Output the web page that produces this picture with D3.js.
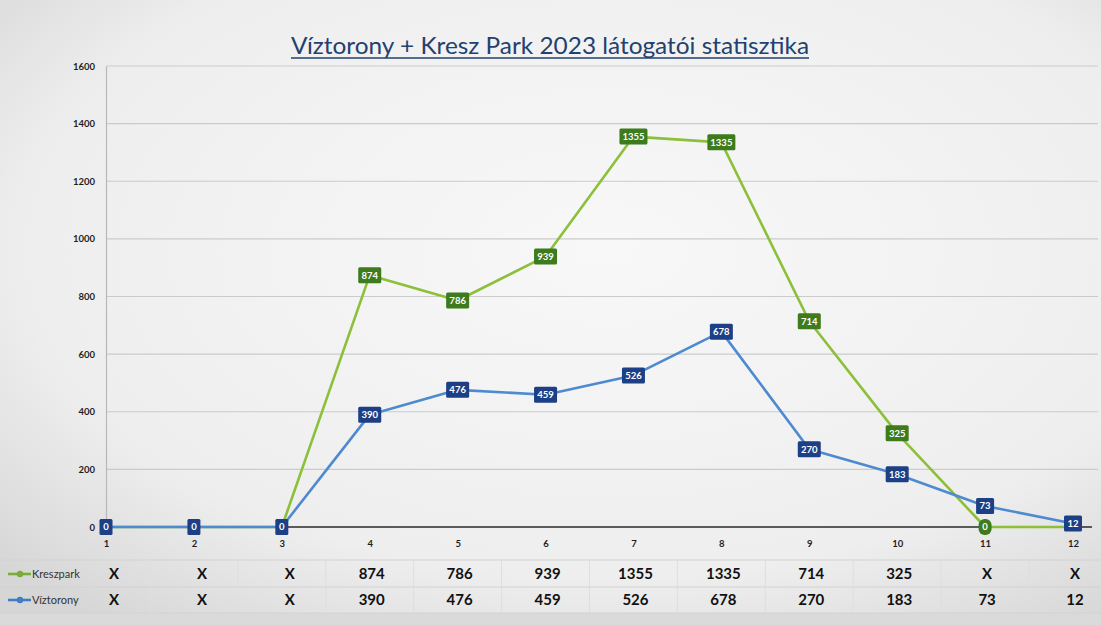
<!DOCTYPE html>
<html lang="hu">
<head>
<meta charset="UTF-8">
<title>Víztorony + Kresz Park 2023</title>
<script src="https://d3js.org/d3.v7.min.js"></script>
<style>
  * { margin: 0; padding: 0; box-sizing: border-box; }
  body { background: #e4e4e4; overflow: hidden; }
  svg { display: block; }
</style>
</head>
<body>
<div id="chart"></div>
<script>
  // honapok (1-12), null = nincs adat ("X" a tablazatban)
  const months = ["1", "2", "3", "4", "5", "6", "7", "8", "9", "10", "11", "12"];
  const kreszpark = [null, null, null, 874, 786, 939, 1355, 1335, 714, 325, null, null];
  const viztorony = [null, null, null, 390, 476, 459, 526, 678, 270, 183, 73, 12];
  const yTicks = [0, 200, 400, 600, 800, 1000, 1200, 1400, 1600];
  const seriesNames = ["Kreszpark", "Víztorony"];
  const title = "Víztorony + Kresz Park 2023 látogatói statisztika";

  const width = 1101, height = 625;
  const colors = {
    Kreszpark: { line: "#8cbf3a", box: "#3d7b1c", legend: "#78ad36" },
    "Víztorony": { line: "#4d8ad0", box: "#1d3f86", legend: "#3f7cc4" }
  };

  const svg = d3.select("#chart").append("svg")
    .attr("width", width)
    .attr("height", height)
    .attr("font-family", "Lato, 'Open Sans', sans-serif");

  // scanned paper look
  const defs = svg.append("defs");
  const grad = defs.append("radialGradient")
    .attr("id", "paper").attr("cx", "55%").attr("cy", "40%").attr("r", "75%");
  grad.append("stop").attr("offset", "0%").attr("stop-color", "#f8f8f8");
  grad.append("stop").attr("offset", "70%").attr("stop-color", "#eeeeee");
  grad.append("stop").attr("offset", "100%").attr("stop-color", "#d6d6d6");
  svg.append("rect").attr("width", width).attr("height", height).attr("fill", "url(#paper)");
  svg.append("rect").attr("x", 0).attr("y", 613).attr("width", width).attr("height", 12)
    .attr("fill", "#dadada");

  const x = d3.scalePoint().domain(months).range([106, 1073]);
  const y = d3.scaleLinear().domain([0, 1600]).range([527, 66]);

  // gridlines
  svg.append("g")
    .selectAll("line")
    .data(yTicks.filter(d => d > 0))
    .join("line")
    .attr("x1", 106).attr("x2", 1098)
    .attr("y1", d => y(d)).attr("y2", d => y(d))
    .attr("stroke", "#cbcbcb").attr("stroke-width", 1.2);

  // y axis
  const yAxis = svg.append("g")
    .attr("transform", "translate(106,0)")
    .call(d3.axisLeft(y).tickValues(yTicks).tickFormat(d3.format("d")).tickSize(0).tickPadding(11));
  yAxis.select(".domain").attr("stroke", "#b8b8b8").attr("stroke-width", 1.2);
  yAxis.selectAll("text")
    .attr("font-size", 9.5).attr("font-weight", 700).attr("fill", "#1e1e1e")
    .attr("font-family", "Lato, sans-serif");

  // x axis (baseline)
  const xAxis = svg.append("g")
    .attr("transform", `translate(0,${y(0)})`)
    .call(d3.axisBottom(x).tickSize(0).tickPadding(13));
  xAxis.select(".domain").attr("stroke", "#2a2a2a").attr("stroke-width", 1.6)
    .attr("d", `M106,0H1092`);
  xAxis.selectAll("text")
    .attr("font-size", 9.5).attr("font-weight", 700).attr("fill", "#1e1e1e")
    .attr("font-family", "Lato, sans-serif");

  // title
  svg.append("text")
    .attr("x", 550).attr("y", 54)
    .attr("text-anchor", "middle")
    .attr("font-size", 23)
    .attr("fill", "#23406f")
    .attr("textLength", 518)
    .attr("lengthAdjust", "spacingAndGlyphs")
    .text(title);
  svg.append("line")
    .attr("x1", 291).attr("x2", 809).attr("y1", 58).attr("y2", 58)
    .attr("stroke", "#23406f").attr("stroke-width", 1.6);

  const series = [
    { name: "Kreszpark", values: kreszpark, other: viztorony },
    { name: "Víztorony", values: viztorony, other: null }
  ];

  const line = d3.line()
    .x((d, i) => x(months[i]))
    .y(d => y(d ?? 0));

  series.forEach(s => {
    const g = svg.append("g");
    g.append("path")
      .datum(s.values)
      .attr("d", line)
      .attr("fill", "none")
      .attr("stroke", colors[s.name].line)
      .attr("stroke-width", 2.6)
      .attr("stroke-linejoin", "round");

    // labels that end up under the (later drawn) blue labels are not visible
    const shown = s.values.map((d, i) => ({ d, i }))
      .filter(({ d, i }) => !s.other || Math.abs(y(d ?? 0) - y(s.other[i] ?? 0)) > 16);

    const lbl = g.selectAll("g.lbl")
      .data(shown)
      .join("g")
      .attr("class", "lbl")
      .attr("transform", p => `translate(${x(months[p.i])},${y(p.d ?? 0)})`);
    lbl.append("rect")
      .attr("x", p => -(String(p.d ?? 0).length * 5 + 8) / 2)
      .attr("y", -8)
      .attr("width", p => String(p.d ?? 0).length * 5 + 8)
      .attr("height", 16)
      .attr("rx", p => (s.other && p.d == null) ? 6 : 1.5)
      .attr("fill", colors[s.name].box);
    lbl.append("text")
      .attr("text-anchor", "middle")
      .attr("dy", "0.35em")
      .attr("font-size", 9.5)
      .attr("font-weight", 700)
      .attr("fill", "#ffffff")
      .text(p => p.d ?? 0);
  });

  // data table under the chart
  const rowY = [574, 600];
  const table = svg.append("g");
  table.selectAll("line.h")
    .data([560, 587, 613])
    .join("line")
    .attr("x1", 0).attr("x2", width)
    .attr("y1", d => d).attr("y2", d => d)
    .attr("stroke", "#d2d2d2").attr("stroke-width", 1);
  table.selectAll("line.v")
    .data(months.slice(1))
    .join("line")
    .attr("x1", d => x(d) - x.step() / 2).attr("x2", d => x(d) - x.step() / 2)
    .attr("y1", 560).attr("y2", 613)
    .attr("stroke", "#dedede").attr("stroke-width", 1);

  series.forEach((s, r) => {
    const leg = table.append("g").attr("transform", `translate(0,${rowY[r]})`);
    leg.append("line").attr("x1", 8).attr("x2", 31).attr("y1", 0).attr("y2", 0)
      .attr("stroke", colors[s.name].legend).attr("stroke-width", 2.6);
    leg.append("circle").attr("cx", 20).attr("cy", 0).attr("r", 3.2)
      .attr("fill", colors[s.name].legend);
    leg.append("text").attr("x", 32).attr("dy", "0.35em")
      .attr("font-size", 11).attr("fill", "#333")
      .text(seriesNames[r]);

    table.selectAll(null)
      .data(s.values)
      .join("text")
      .attr("x", (d, i) => x(months[i]) + (i < 3 ? 8 : 2))
      .attr("y", rowY[r])
      .attr("dy", "0.36em")
      .attr("text-anchor", "middle")
      .attr("font-size", 15)
      .attr("font-weight", 700)
      .attr("fill", "#111")
      .text(d => d ?? "X");
  });
</script>
</body>
</html>
